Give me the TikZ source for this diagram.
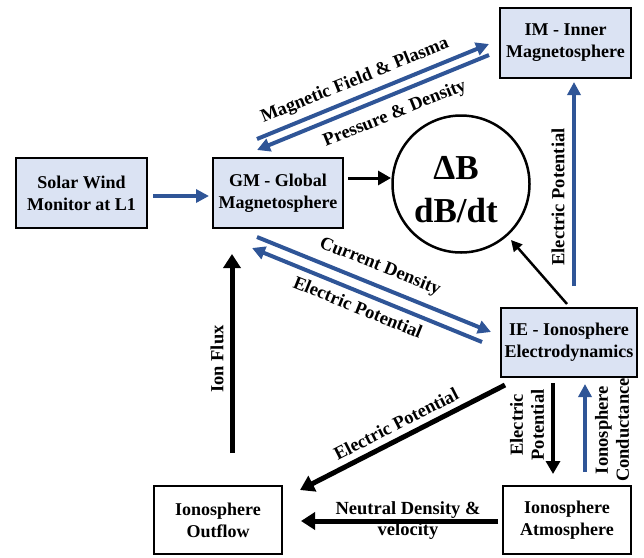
\documentclass[tikz,border=0pt]{standalone}
\usepackage{fontspec}
\setmainfont{Liberation Serif}
\usepackage{tikz}
\usetikzlibrary{arrows.meta}
\pgfdeclarelayer{edgelayer}
\pgfdeclarelayer{nodelayer}
\pgfsetlayers{edgelayer,nodelayer,main}
\definecolor{flowblue}{RGB}{47,85,151}
\definecolor{boxfill}{RGB}{219,227,243}
\tikzstyle{none} = [inner sep=0pt]
\tikzstyle{model} = [draw, line width=2.5pt, fill=boxfill, align=center, inner sep=0pt, font=\fontsize{18}{22}\selectfont\bfseries]
\tikzstyle{plain box} = [draw, line width=2.5pt, fill=white, align=center, inner sep=0pt, font=\fontsize{18}{22}\selectfont\bfseries]
\tikzstyle{result} = [draw, circle, line width=2.5pt, minimum size=137pt, inner sep=0pt]
\tikzstyle{result text} = [inner sep=0pt, align=center, font=\fontsize{35}{43}\selectfont\bfseries]
\tikzstyle{tag} = [inner sep=0pt, align=center, font=\fontsize{18.5}{21}\selectfont\bfseries]
\tikzstyle{blue flow} = [draw=flowblue, line width=4pt, -{Triangle[length=13pt,width=13pt]}]
\tikzstyle{black flow} = [draw=black, line width=4pt, -{Triangle[length=13pt,width=14pt]}]
\tikzstyle{heavy flow} = [draw=black, line width=5pt, -{Triangle[length=14pt,width=17pt]}]
\tikzstyle{thin flow} = [draw=black, line width=2.5pt, -{Triangle[length=11pt,width=11pt]}]

\begin{document}
\begin{tikzpicture}[x=1pt, y=-1pt]
	\useasboundingbox (0,0) rectangle (644,557);
	\begin{pgfonlayer}{nodelayer}
		% models
		\node [style=model, minimum width=131pt, minimum height=70pt] (sw) at (81.5,193) {Solar Wind\\Monitor at L1};
		\node [style=model, minimum width=130pt, minimum height=70pt] (gm) at (278,193) {GM - Global\\Magnetosphere};
		\node [style=model, minimum width=131pt, minimum height=70pt] (im) at (565.5,43) {IM - Inner\\Magnetosphere};
		\node [style=model, minimum width=136pt, minimum height=69pt] (ie) at (569,342.5) {IE - Ionosphere\\Electrodynamics};
		\node [style=plain box, minimum width=128pt, minimum height=68pt] (out) at (218,520) {Ionosphere\\Outflow};
		\node [style=plain box, minimum width=128pt, minimum height=68pt] (atm) at (567,520) {Ionosphere\\Atmosphere};
		\node [style=result] (db) at (461,184) {};
		\node [style=result text] (dbt) at (456,190) {ΔB\\dB/dt};
		% arrow ends
		\node [style=none] (0) at (153,196) {};
		\node [style=none] (1) at (209,196) {};
		\node [style=none] (2) at (348,178) {};
		\node [style=none] (3) at (391,178) {};
		\node [style=none] (4) at (257,139) {};
		\node [style=none] (5) at (489,44) {};
		\node [style=none] (6) at (489,55) {};
		\node [style=none] (7) at (257,150) {};
		\node [style=none] (8) at (257,237) {};
		\node [style=none] (9) at (491,332) {};
		\node [style=none] (10) at (482,342) {};
		\node [style=none] (11) at (252,248) {};
		\node [style=none] (12) at (567,304) {};
		\node [style=none] (13) at (511,240) {};
		\node [style=none] (14) at (574,286) {};
		\node [style=none] (15) at (574,82) {};
		\node [style=none] (16) at (232,453) {};
		\node [style=none] (17) at (232,254) {};
		\node [style=none] (18) at (505,385) {};
		\node [style=none] (19) at (300,490) {};
		\node [style=none] (20) at (553,383) {};
		\node [style=none] (21) at (553,474) {};
		\node [style=none] (22) at (585,472) {};
		\node [style=none] (23) at (585,384) {};
		\node [style=none] (24) at (498,521) {};
		\node [style=none] (25) at (301,521) {};
		% labels
		\node [style=tag, rotate=22] (26) at (355,81) {Magnetic Field \& Plasma};
		\node [style=tag, rotate=22] (27) at (395,114) {Pressure \& Density};
		\node [style=tag, rotate=-22] (28) at (380,267) {Current Density};
		\node [style=tag, rotate=-22] (29) at (358,307) {Electric Potential};
		\node [style=tag, rotate=90] (30) at (558,197) {Electric Potential};
		\node [style=tag, rotate=90] (31) at (217,359) {Ion Flux};
		\node [style=tag, rotate=27] (32) at (396,424) {Electric Potential};
		\node [style=tag, rotate=90] (33) at (527,425) {Electric\\Potential};
		\node [style=tag, rotate=90] (34) at (612,430) {Ionosphere\\Conductance};
		\node [style=tag] (35) at (408,521) {Neutral Density \&\\velocity};
	\end{pgfonlayer}
	\begin{pgfonlayer}{edgelayer}
		\draw [style=blue flow] (0.center) to (1.center);
		\draw [style=black flow, line width=3pt] (2.center) to (3.center);
		\draw [style=blue flow] (4.center) to (5.center);
		\draw [style=blue flow] (6.center) to (7.center);
		\draw [style=blue flow] (8.center) to (9.center);
		\draw [style=blue flow] (10.center) to (11.center);
		\draw [style=thin flow] (12.center) to (13.center);
		\draw [style=blue flow] (14.center) to (15.center);
		\draw [style=heavy flow] (16.center) to (17.center);
		\draw [style=heavy flow] (18.center) to (19.center);
		\draw [style=black flow] (20.center) to (21.center);
		\draw [style=blue flow] (22.center) to (23.center);
		\draw [style=heavy flow] (24.center) to (25.center);
	\end{pgfonlayer}
\end{tikzpicture}
\end{document}
